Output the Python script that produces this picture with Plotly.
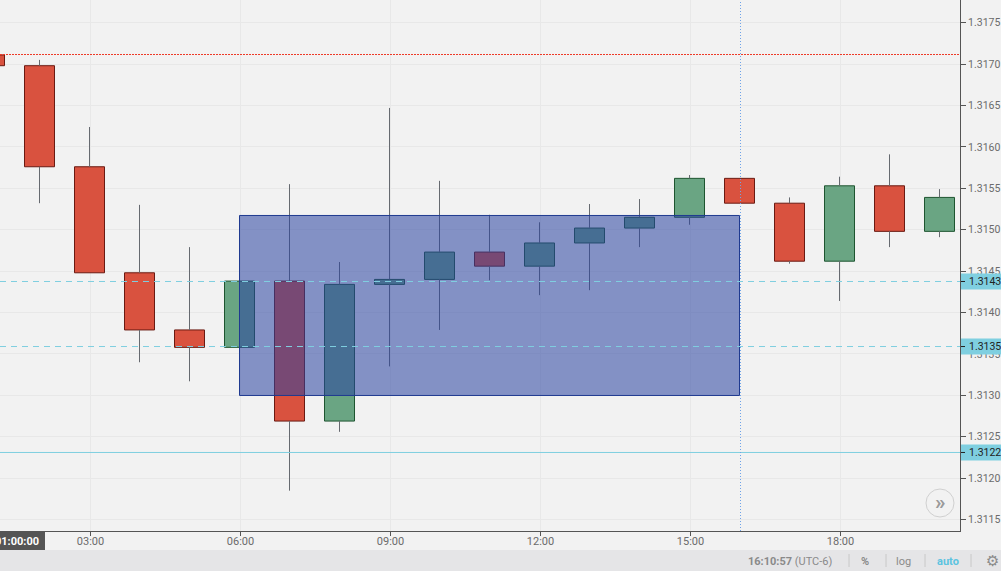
import plotly.graph_objects as go

hours = [1, 2, 3, 4, 5, 6, 7, 8, 9, 10, 11, 12, 13, 14, 15, 16, 17, 18, 19, 20]
opens = [1.31711, 1.31698, 1.31576, 1.31448, 1.31379, 1.31358, 1.31438, 1.31269, 1.31434, 1.31440, 1.31473, 1.31456, 1.31484, 1.31502, 1.31515, 1.31562, 1.31532, 1.31462, 1.31553, 1.31498]
closes = [1.31698, 1.31576, 1.31448, 1.31379, 1.31358, 1.31438, 1.31269, 1.31434, 1.31440, 1.31473, 1.31456, 1.31484, 1.31502, 1.31515, 1.31562, 1.31532, 1.31462, 1.31553, 1.31498, 1.31539]
highs = [1.31711, 1.31705, 1.31624, 1.31530, 1.31479, 1.31438, 1.31555, 1.31461, 1.31647, 1.31559, 1.31518, 1.31509, 1.31531, 1.31537, 1.31566, 1.31562, 1.31539, 1.31564, 1.31591, 1.31549]
lows = [1.31698, 1.31532, 1.31448, 1.31340, 1.31317, 1.31358, 1.31185, 1.31256, 1.31335, 1.31379, 1.31439, 1.31421, 1.31427, 1.31479, 1.31506, 1.31532, 1.31459, 1.31414, 1.31479, 1.31491]

time_ticks = [3, 6, 9, 12, 15, 18]
time_labels = ["03:00", "06:00", "09:00", "12:00", "15:00", "18:00"]
price_ticks = [1.3115, 1.3120, 1.3125, 1.3130, 1.3135, 1.3140, 1.3145, 1.3150, 1.3155, 1.3160, 1.3165, 1.3170, 1.3175]
price_labels = [f"{p:.4f}" for p in price_ticks]

level_red = 1.317115
levels_dashed = [1.314375, 1.313590]
level_solid = 1.312311
level_texts = {1.314375: "1.3143", 1.313590: "1.3135", 1.312311: "1.3122"}
box_x = [6, 16]
box_y = [1.312999, 1.315172]
cross_x = 16.02
GRID_NUDGE = 0.02

W, H = 1001, 571
ML, MR, MT, MB = 0, 41, 0, 40
PW, PH = W - ML - MR, H - MT - MB
def px(x):
    return x / PW
def py(y):
    return 1 - y / PH

FONT = "Roboto"
TXT = "#6b6b6b"
UP, UPL = "#6aa583", "#1e5530"
DN, DNL = "#d9523f", "#6a1a12"
CYAN = "#7fcfe0"

tops = [max(o, c) for o, c in zip(opens, closes)]
bottoms = [min(o, c) for o, c in zip(opens, closes)]
rising = [c >= o for o, c in zip(opens, closes)]

wx, wy = [], []
for h, hi, t, b, lo in zip(hours, highs, tops, bottoms, lows):
    wx += [h, h, None, h, h, None]
    wy += [hi, t, None, b, lo, None]

fig = go.Figure()
fig.add_trace(go.Scatter(x=wx, y=wy, mode="lines", line=dict(color="#666a70", width=1),
                         hoverinfo="skip", showlegend=False, connectgaps=False))
fig.add_trace(go.Bar(
    x=hours, y=[t - b for t, b in zip(tops, bottoms)], base=bottoms, width=0.6,
    marker=dict(color=[UP if r else DN for r in rising],
                line=dict(color=[UPL if r else DNL for r in rising], width=1)),
    hoverinfo="skip", showlegend=False,
))

shapes = [
    dict(type="rect", xref="paper", yref="paper", x0=0, x1=W / PW, y0=py(550), y1=py(571),
         fillcolor="#e5e5e7", line_width=0, layer="below"),
    dict(type="rect", xref="x", yref="y", x0=box_x[0], x1=box_x[1], y0=box_y[0], y1=box_y[1],
         fillcolor="rgba(40,65,160,0.55)", line=dict(color="#1f3a90", width=1), layer="above"),
    dict(type="line", xref="paper", yref="y", x0=0, x1=1, y0=level_red, y1=level_red,
         line=dict(color="#ee3b28", width=1, dash="2px,1px"), layer="above"),
    dict(type="line", xref="paper", yref="y", x0=0, x1=1, y0=level_solid, y1=level_solid,
         line=dict(color=CYAN, width=1), layer="above"),
    dict(type="line", xref="x", yref="paper", x0=cross_x, x1=cross_x, y0=0, y1=1,
         line=dict(color="#6fa3e8", width=1, dash="1px,2px"), layer="above"),
    dict(type="circle", xref="paper", yref="paper", x0=px(926), x1=px(954), y0=py(517), y1=py(489),
         line=dict(color="#d0d0d0", width=1), fillcolor="rgba(0,0,0,0)", layer="above"),
    dict(type="rect", xref="paper", yref="paper", x0=0, x1=px(45), y0=py(531), y1=py(550),
         fillcolor="#555555", line_width=0, layer="above"),
]
for lv in levels_dashed:
    shapes.append(dict(type="line", xref="paper", yref="y", x0=0, x1=1, y0=lv, y1=lv,
                       line=dict(color=CYAN, width=1, dash="6px,5px"), layer="above"))
for lv in level_texts:
    shapes.append(dict(type="rect", xref="paper", yref="y", x0=px(961), x1=px(1001),
                       ysizemode="pixel", yanchor=lv, y0=-8, y1=8,
                       fillcolor=CYAN, line=dict(color=CYAN, width=0), layer="above"))
    shapes.append(dict(type="line", xref="paper", yref="y", x0=px(961), x1=px(965), y0=lv, y1=lv,
                       line=dict(color="#222222", width=1), layer="above"))
for sx in [849, 886, 925, 971]:
    shapes.append(dict(type="line", xref="paper", yref="paper", x0=px(sx), x1=px(sx), y0=py(554), y1=py(567),
                       line=dict(color="#c8c8c8", width=1), layer="above"))

def note(x, y, text, xanchor="center", size=11, color=TXT, family=FONT):
    return dict(xref="paper", yref="paper", x=px(x), y=py(y), text=text, showarrow=False,
                xanchor=xanchor, yanchor="middle", font=dict(family=family, size=size, color=color))

ann = []
for lv, t in level_texts.items():
    ann.append(dict(xref="paper", yref="y", x=px(967), y=lv, text=t, showarrow=False, xanchor="left",
                    yanchor="middle", font=dict(family=FONT, size=10.5, color="#222222")))
ann.append(note(41, 541, "<b>01:00:00</b>", "right", color="#ffffff"))
ann.append(note(940, 502, "<b>»</b>", size=21, color="#9a9a9a"))
ann.append(note(835, 561, "<b>16:10:57</b> (UTC-6)", "right", color="#8a8a8a"))
for x, t, c, b in [(865, "%", "#8a8a8a", True), (903, "log", "#8a8a8a", False), (948, "auto", "#5cc3e0", True)]:
    ann.append(note(x, 561, f"<b>{t}</b>" if b else t, color=c))
ann.append(note(992, 561, "⚙", size=15, color="#8a8a8a", family="DejaVu Sans"))

fig.update_layout(
    width=W, height=H, margin=dict(l=ML, r=MR, t=MT, b=MB, pad=0, autoexpand=False),
    paper_bgcolor="#f2f2f2", plot_bgcolor="#f2f2f2",
    showlegend=False, dragmode=False, hovermode=False,
    shapes=shapes, annotations=ann,
    font=dict(family=FONT, size=11, color=TXT),
    xaxis=dict(range=[1.21, 20.41], tickmode="array", tickvals=[t + GRID_NUDGE for t in time_ticks], ticktext=time_labels,
               showgrid=True, gridcolor="#e8e8e8", gridwidth=1, zeroline=False, ticklabelstandoff=-4,
               showline=True, linecolor="#555555", linewidth=1, ticks="outside", ticklen=4, tickcolor="#555555",
               tickfont=dict(family=FONT, size=11, color=TXT)),
    yaxis=dict(range=[1.311363, 1.317773], side="right", tickmode="array", tickvals=price_ticks, ticktext=price_labels,
               showgrid=True, gridcolor="#e8e8e8", gridwidth=1, zeroline=False,
               showline=True, linecolor="#555555", linewidth=1, ticks="outside", ticklen=5, tickcolor="#555555",
               tickfont=dict(family=FONT, size=10.5, color=TXT)),
)

fig.write_html("out.html", config=dict(displayModeBar=False),
               post_script="document.body.style.margin='0';document.body.style.overflow='hidden';")
